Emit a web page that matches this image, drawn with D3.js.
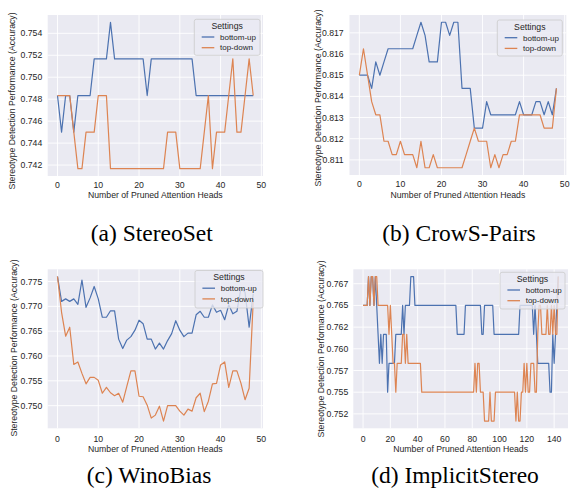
<!DOCTYPE html>
<html>
<head>
<meta charset="utf-8">
<script src="https://cdn.jsdelivr.net/npm/d3@7"></script>
<style>
  body { margin: 0; background: #fff; }
  text { font-family: "Liberation Sans", Arial, sans-serif; fill: #262626; }
  .caption { font-family: "Liberation Serif", "Times New Roman", serif; fill: #000; }
</style>
</head>
<body>
<script>
// series names + colours (seaborn "deep")
const settings = ["bottom-up", "top-down"];
const colors = ["#4c72b0", "#dd8452"];

// (a) StereoSet, 49 pruning steps
const stereoBottomUp = [0.74833,0.745,0.74833,0.74833,0.745,0.74833,0.74833,0.74833,0.74833,0.75167,
  0.75167,0.75167,0.75167,0.755,0.75167,0.75167,0.75167,0.75167,0.75167,0.75167,
  0.75167,0.75167,0.74833,0.75167,0.75167,0.75167,0.75167,0.75167,0.75167,0.75167,
  0.75167,0.75167,0.75167,0.75167,0.74833,0.74833,0.74833,0.74833,0.74833,0.74833,
  0.74833,0.74833,0.74833,0.74833,0.74833,0.74833,0.74833,0.74833,0.74833];
const stereoTopDown = [0.74833,0.74833,0.74833,0.74833,0.745,0.74167,0.74167,0.745,0.745,0.745,
  0.74833,0.74833,0.74833,0.74167,0.74167,0.74167,0.74167,0.74167,0.74167,0.74167,
  0.74167,0.74167,0.74167,0.74167,0.74167,0.74167,0.74167,0.745,0.745,0.745,
  0.74167,0.74167,0.74167,0.74167,0.74167,0.74167,0.745,0.74833,0.74167,0.745,
  0.745,0.745,0.74833,0.75167,0.745,0.745,0.74833,0.75167,0.74833];
const stereoYTicks = [0.742, 0.744, 0.746, 0.748, 0.750, 0.752, 0.754];

// (b) CrowS-Pairs
const crowsBottomUp = [0.815,0.815,0.815,0.81438,0.81563,0.815,0.81563,0.81625,0.81625,0.81625,
  0.81625,0.81625,0.81625,0.81625,0.81688,0.8175,0.81688,0.81563,0.81563,0.81563,
  0.8175,0.8175,0.81688,0.8175,0.8175,0.81438,0.81438,0.81438,0.8125,0.8125,
  0.8125,0.81375,0.81313,0.81313,0.81313,0.81313,0.81313,0.81313,0.81313,0.81375,
  0.81313,0.81313,0.81313,0.81375,0.81375,0.81313,0.81375,0.81313,0.81438];
const crowsTopDown = [0.815,0.81625,0.815,0.81375,0.81313,0.81313,0.81188,0.81188,0.81125,0.81125,
  0.81188,0.81125,0.81125,0.81125,0.81063,0.81188,0.81063,0.81063,0.81125,0.81063,
  0.81063,0.81063,0.81063,0.81063,0.81063,0.81063,0.81125,0.81188,0.8125,0.81188,
  0.81188,0.81188,0.81063,0.81125,0.81063,0.81125,0.81125,0.81188,0.81188,0.81313,
  0.81313,0.81313,0.81313,0.81313,0.81313,0.8125,0.8125,0.8125,0.81438];
const crowsYTicks = [0.811, 0.812, 0.813, 0.814, 0.815, 0.816, 0.817];

// (c) WinoBias
const winoBottomUp = [0.776,0.7710,0.7715,0.7710,0.7715,0.7704,0.7753,0.7698,0.7717,0.7740,
  0.7715,0.7678,0.7678,0.7691,0.7691,0.7634,0.7615,0.7632,0.7639,0.7652,
  0.7672,0.7665,0.7634,0.7634,0.7614,0.7626,0.7614,0.7631,0.7645,0.7671,
  0.7652,0.7639,0.7646,0.7646,0.7683,0.7690,0.7678,0.7678,0.7703,0.7688,
  0.7692,0.7673,0.7703,0.7685,0.7690,0.7737,0.7728,0.7658,0.7725];
const winoTopDown = [0.776,0.7688,0.7640,0.7658,0.7583,0.7588,0.7565,0.7544,0.7557,0.7557,
  0.7551,0.7525,0.7537,0.7526,0.7520,0.7525,0.7507,0.7539,0.7570,0.7570,
  0.7519,0.7518,0.7501,0.7475,0.7481,0.7499,0.7469,0.7500,0.7500,0.7500,
  0.7489,0.7481,0.7493,0.7489,0.7516,0.7525,0.7488,0.7509,0.7544,0.7545,
  0.7582,0.7588,0.7537,0.7570,0.7570,0.7545,0.7512,0.7535,0.7710];
const winoYTicks = [0.750, 0.755, 0.760, 0.765, 0.770, 0.775];

// (d) ImplicitStereo, 144 pruning steps
const implicitBottomUp = [
  0.765,0.765,0.765,0.765,0.76833,0.765,0.76833,0.76833,0.765,0.76833,0.765,0.76167,
  0.75833,0.76167,0.75833,0.76167,0.76167,0.76167,0.755,0.75833,0.75833,0.75833,0.75833,0.75833,
  0.76167,0.76167,0.76167,0.76167,0.76167,0.765,0.76167,0.765,0.765,0.765,0.765,0.76833,
  0.76833,0.76833,0.765,0.765,0.765,0.765,0.765,0.765,0.765,0.765,0.765,0.765,
  0.765,0.765,0.765,0.765,0.765,0.765,0.765,0.765,0.765,0.765,0.765,0.765,
  0.765,0.765,0.765,0.765,0.765,0.765,0.765,0.765,0.765,0.76167,0.76167,0.76167,
  0.76167,0.76167,0.76167,0.765,0.765,0.765,0.765,0.765,0.765,0.765,0.765,0.765,
  0.765,0.765,0.765,0.76167,0.76167,0.765,0.765,0.765,0.765,0.765,0.765,0.765,
  0.76167,0.76167,0.76167,0.76167,0.76167,0.76167,0.76167,0.76167,0.76167,0.76167,0.76167,0.76167,
  0.76167,0.76167,0.76167,0.76167,0.76167,0.76167,0.76167,0.765,0.765,0.765,0.765,0.765,
  0.765,0.765,0.765,0.765,0.765,0.76167,0.765,0.76167,0.75833,0.75833,0.75833,0.75833,
  0.75833,0.75833,0.75833,0.75833,0.75833,0.755,0.755,0.76167,0.75833,0.76167,0.765,0.76833];
const implicitTopDown = [
  0.765,0.765,0.765,0.765,0.76833,0.765,0.76833,0.76833,0.765,0.76833,0.76833,0.765,
  0.765,0.765,0.765,0.765,0.765,0.765,0.765,0.76167,0.765,0.76167,0.75833,0.75833,
  0.755,0.75833,0.75833,0.75833,0.75833,0.76167,0.76167,0.75833,0.76167,0.75833,0.75833,0.75833,
  0.75833,0.75833,0.75833,0.75833,0.75833,0.75833,0.75833,0.755,0.755,0.755,0.755,0.755,
  0.755,0.755,0.755,0.755,0.755,0.755,0.755,0.755,0.755,0.755,0.755,0.755,
  0.755,0.755,0.755,0.755,0.755,0.755,0.755,0.755,0.755,0.755,0.755,0.755,
  0.755,0.755,0.755,0.755,0.755,0.755,0.755,0.755,0.755,0.755,0.75833,0.755,
  0.75833,0.75833,0.755,0.755,0.755,0.75167,0.75167,0.75167,0.75167,0.755,0.75167,0.75167,
  0.75167,0.755,0.755,0.755,0.755,0.755,0.755,0.755,0.755,0.755,0.755,0.755,
  0.755,0.755,0.755,0.755,0.75167,0.755,0.75167,0.75167,0.755,0.755,0.75833,0.755,
  0.75833,0.755,0.755,0.75833,0.75833,0.75833,0.755,0.755,0.76167,0.765,0.765,0.76167,
  0.76167,0.76167,0.76167,0.765,0.76167,0.76167,0.765,0.76167,0.765,0.76167,0.76167,0.76833];
const implicitYTicks = [0.7525, 0.755, 0.7575, 0.760, 0.7625, 0.765, 0.7675];
const implicitYLabels = ["0.752", "0.755", "0.757", "0.760", "0.762", "0.765", "0.767"];

const xTicks50 = [0, 10, 20, 30, 40, 50];
const xTicks140 = [0, 20, 40, 60, 80, 100, 120, 140];

const xTitle = "Number of Pruned Attention Heads";
const yTitle = "Stereotype Detection Performance (Accuracy)";

// layout of each subfigure (pixel boxes)
const panels = [
  { caption: "(a) StereoSet", series: [stereoBottomUp, stereoTopDown], yTicks: stereoYTicks, xTicks: xTicks50,
    box: [47.7, 263, 15, 176], tickLabelRight: 42.3, xTickY: 185, xTitleY: 195.3, yTitleX: 15.2, yTitleY: 101,
    legend: [194.3, 19.3, 65.7, 36], capX: 151.7, capY: 241 },
  { caption: "(b) CrowS-Pairs", series: [crowsBottomUp, crowsTopDown], yTicks: crowsYTicks, xTicks: xTicks50,
    box: [349.5, 566.3, 15, 175], tickLabelRight: 343.7, xTickY: 184, xTitleY: 195.3, yTitleX: 320.5, yTitleY: 98,
    legend: [497.3, 20, 65, 36], capX: 459, capY: 241 },
  { caption: "(c) WinoBias", series: [winoBottomUp, winoTopDown], yTicks: winoYTicks, xTicks: xTicks50,
    box: [47.7, 263, 269.3, 428.3], tickLabelRight: 42.3, xTickY: 439, xTitleY: 449.3, yTitleX: 17.2, yTitleY: 348,
    legend: [195, 270.5, 68, 37.5], capX: 149, capY: 483 },
  { caption: "(d) ImplicitStereo", series: [implicitBottomUp, implicitTopDown], yTicks: implicitYTicks,
    yLabels: implicitYLabels, xTicks: xTicks140,
    box: [353.3, 568, 269.3, 428.3], tickLabelRight: 348.3, xTickY: 439.3, xTitleY: 449.3, yTitleX: 323.9, yTitleY: 349,
    legend: [500, 272.3, 65, 36.7], capX: 455, capY: 483 }
];

const svg = d3.select("body").append("svg")
  .attr("width", 570)
  .attr("height", 490);

const drawPanel = (p) => {
  const [x0, x1, y0, y1] = p.box;
  const n = p.series[0].length - 1;

  // matplotlib style 5% margins
  const all = p.series.flat();
  const [lo, hi] = d3.extent(all);
  const padY = (hi - lo) * 0.05;
  const x = d3.scaleLinear().domain([-n * 0.05, n * 1.05]).range([x0, x1]);
  const y = d3.scaleLinear().domain([lo - padY, hi + padY]).range([y1, y0]);

  const g = svg.append("g");

  g.append("rect")
    .attr("x", x0).attr("y", y0)
    .attr("width", x1 - x0).attr("height", y1 - y0)
    .attr("fill", "#eaeaf2");

  // grid
  g.append("g").selectAll("line")
    .data(p.xTicks)
    .join("line")
    .attr("x1", d => x(d)).attr("x2", d => x(d))
    .attr("y1", y0).attr("y2", y1)
    .attr("stroke", "#fff").attr("stroke-width", 0.9);
  g.append("g").selectAll("line")
    .data(p.yTicks)
    .join("line")
    .attr("x1", x0).attr("x2", x1)
    .attr("y1", d => y(d)).attr("y2", d => y(d))
    .attr("stroke", "#fff").attr("stroke-width", 0.9);

  // tick labels
  g.append("g").selectAll("text")
    .data(p.xTicks)
    .join("text")
    .attr("x", d => x(d)).attr("y", p.xTickY)
    .attr("dy", "0.35em")
    .attr("text-anchor", "middle")
    .attr("font-size", 8.7)
    .text(d => d);
  const fmt = d3.format(".3f");
  g.append("g").selectAll("text")
    .data(p.yTicks)
    .join("text")
    .attr("x", p.tickLabelRight).attr("y", d => y(d))
    .attr("dy", "0.35em")
    .attr("text-anchor", "end")
    .attr("font-size", 8.7)
    .text((d, i) => p.yLabels ? p.yLabels[i] : fmt(d));

  // axis titles
  g.append("text")
    .attr("x", (x0 + x1) / 2).attr("y", p.xTitleY)
    .attr("dy", "0.35em")
    .attr("text-anchor", "middle")
    .attr("font-size", 8.7)
    .text(xTitle);
  g.append("text")
    .attr("transform", `translate(${p.yTitleX},${p.yTitleY}) rotate(-90)`)
    .attr("text-anchor", "middle")
    .attr("font-size", 8.7)
    .text(yTitle);

  // lines
  const line = d3.line().x((d, i) => x(i)).y(d => y(d));
  g.append("g").selectAll("path")
    .data(p.series)
    .join("path")
    .attr("d", line)
    .attr("fill", "none")
    .attr("stroke", (d, i) => colors[i])
    .attr("stroke-width", 1.2)
    .attr("stroke-linejoin", "round");

  // legend
  const [lx, ly, lw, lh] = p.legend;
  const leg = g.append("g").attr("transform", `translate(${lx},${ly})`);
  leg.append("rect")
    .attr("width", lw).attr("height", lh)
    .attr("rx", 2)
    .attr("fill", "#eaeaf2").attr("fill-opacity", 0.8)
    .attr("stroke", "#cccccc").attr("stroke-width", 0.8);
  leg.append("text")
    .attr("x", lw / 2).attr("y", 6.7)
    .attr("dy", "0.35em")
    .attr("text-anchor", "middle")
    .attr("font-size", 8.7)
    .text("Settings");
  settings.forEach((s, i) => {
    const yy = 17.7 + i * 10.7;
    leg.append("line")
      .attr("x1", 7.4).attr("x2", 20)
      .attr("y1", yy).attr("y2", yy)
      .attr("stroke", colors[i]).attr("stroke-width", 1.3);
    leg.append("text")
      .attr("x", 25.7).attr("y", yy)
      .attr("dy", "0.35em")
      .attr("font-size", 8)
      .text(s);
  });

  // subfigure caption
  svg.append("text")
    .attr("class", "caption")
    .attr("x", p.capX).attr("y", p.capY)
    .attr("text-anchor", "middle")
    .attr("font-size", 23.5)
    .text(p.caption);
};

panels.forEach(drawPanel);
</script>
</body>
</html>
